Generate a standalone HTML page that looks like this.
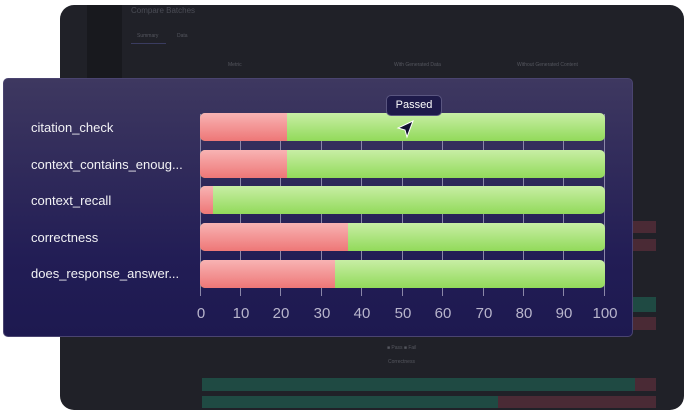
<!DOCTYPE html>
<html><head><meta charset="utf-8"><style>
*{margin:0;padding:0;box-sizing:border-box}
body{width:689px;height:415px;background:#fff;position:relative;overflow:hidden;font-family:"Liberation Sans",sans-serif}
.abs{position:absolute}
.panel{left:60px;top:5px;width:624px;height:405px;background:#202128;border-radius:14px;overflow:hidden}
.card{left:3px;top:78px;width:630px;height:259px;border-radius:5px;background:linear-gradient(#3e3860,#221d55 70%,#1d1950);border:1px solid #4a4470}
.lbl{color:#f2f2f5;font-size:13px;left:27px}
.bar{left:196px;width:405px;height:28px;border-radius:5px;overflow:hidden;background:linear-gradient(#c8eea5,#92da5a);display:flex}
.red{height:100%;background:linear-gradient(#f8b3b3,#ee7777)}
.grid{width:1px;background:#8b87a8}
.tick{color:#b8b5cc;font-size:15px;width:40px;text-align:center}
.dim{color:#55575f;font-size:5px}
</style></head><body>
<div class="abs panel">
 <div class="abs" style="left:27px;top:0;width:35px;height:80px;background:#18191e"></div>
 <div class="abs" style="left:71px;top:1px;color:#4a4c55;font-size:8px">Compare Batches</div>
 <div class="abs dim" style="left:77px;top:28px">Summary</div>
 <div class="abs dim" style="left:117px;top:28px">Data</div>
 <div class="abs" style="left:71px;top:38px;width:35px;height:1px;background:#3a3c60"></div>
 <div class="abs dim" style="left:168px;top:57px">Metric</div>
 <div class="abs dim" style="left:334px;top:57px">With Generated Data</div>
 <div class="abs dim" style="left:457px;top:57px">Without Generated Content</div>
 <div class="abs" style="left:573px;top:216px;width:23px;height:12px;background:#4a2a35"></div>
 <div class="abs" style="left:573px;top:234px;width:23px;height:12px;background:#4a2a35"></div>
 <div class="abs" style="left:573px;top:292px;width:23px;height:15px;background:#1f4a43"></div>
 <div class="abs" style="left:573px;top:312px;width:23px;height:13px;background:#4a2a35"></div>
 <div class="abs dim" style="left:327px;top:340px">■ Pass ■ Fail</div>
 <div class="abs dim" style="left:328px;top:354px">Correctness</div>
 <div class="abs" style="left:142px;top:373px;width:454px;height:13px;background:#4a2a35"><div style="width:433px;height:100%;background:#1f4a43"></div></div>
 <div class="abs" style="left:142px;top:391px;width:454px;height:12px;background:#4a2a35"><div style="width:296px;height:100%;background:#1f4a43"></div></div>
</div>
<div class="abs card">
 <div class="abs lbl" style="top:41px">citation_check</div>
 <div class="abs lbl" style="top:78px">context_contains_enoug...</div>
 <div class="abs lbl" style="top:114px">context_recall</div>
 <div class="abs lbl" style="top:151px">correctness</div>
 <div class="abs lbl" style="top:187px">does_response_answer...</div>
 <div class="abs grid" style="left:196px;top:35px;height:182px"></div>
 <div class="abs grid" style="left:236px;top:35px;height:182px"></div>
 <div class="abs grid" style="left:276px;top:35px;height:182px"></div>
 <div class="abs grid" style="left:317px;top:35px;height:182px"></div>
 <div class="abs grid" style="left:357px;top:35px;height:182px"></div>
 <div class="abs grid" style="left:398px;top:35px;height:182px"></div>
 <div class="abs grid" style="left:438px;top:35px;height:182px"></div>
 <div class="abs grid" style="left:479px;top:35px;height:182px"></div>
 <div class="abs grid" style="left:519px;top:35px;height:182px"></div>
 <div class="abs grid" style="left:559px;top:35px;height:182px"></div>
 <div class="abs grid" style="left:600px;top:35px;height:182px"></div>
 <div class="abs bar" style="top:34px"><div class="red" style="width:87px"></div></div>
 <div class="abs bar" style="top:71px"><div class="red" style="width:87px"></div></div>
 <div class="abs bar" style="top:107px"><div class="red" style="width:13px"></div></div>
 <div class="abs bar" style="top:144px"><div class="red" style="width:148px"></div></div>
 <div class="abs bar" style="top:181px"><div class="red" style="width:135px"></div></div>
 <div class="abs tick" style="left:177px;top:226px">0</div>
 <div class="abs tick" style="left:217px;top:226px">10</div>
 <div class="abs tick" style="left:257px;top:226px">20</div>
 <div class="abs tick" style="left:298px;top:226px">30</div>
 <div class="abs tick" style="left:338px;top:226px">40</div>
 <div class="abs tick" style="left:379px;top:226px">50</div>
 <div class="abs tick" style="left:419px;top:226px">60</div>
 <div class="abs tick" style="left:460px;top:226px">70</div>
 <div class="abs tick" style="left:500px;top:226px">80</div>
 <div class="abs tick" style="left:540px;top:226px">90</div>
 <div class="abs tick" style="left:581px;top:226px">100</div>
 <div class="abs" style="left:382px;top:16px;width:56px;height:21px;border-radius:5px;background:#1e1a4a;border:1px solid #5a5680;color:#fff;font-size:11px;text-align:center;line-height:19px">Passed</div>
 <svg class="abs" style="left:392px;top:40px" width="20" height="20" viewBox="0 0 20 20"><path d="M17 2 L2 9 L9 11 L11 18 Z" fill="#111030" stroke="#fff" stroke-width="1"/></svg>
</div>
</body></html>
